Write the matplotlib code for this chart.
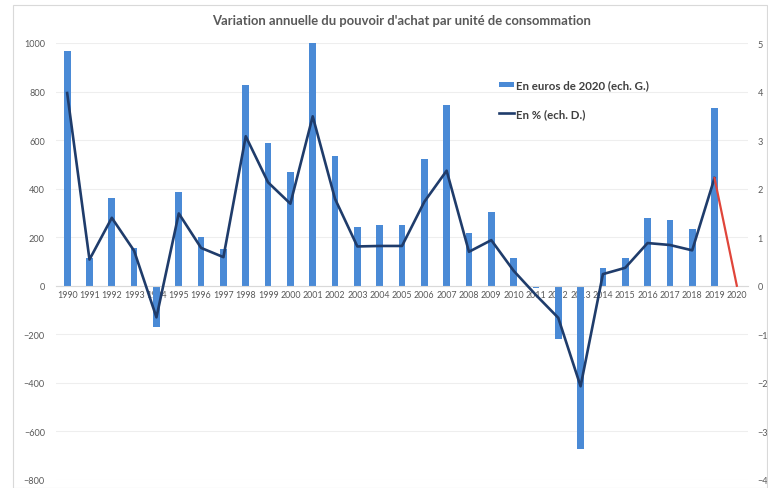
import numpy as np
import matplotlib
matplotlib.use("Agg")
import matplotlib.pyplot as plt
from matplotlib.patches import Patch, Rectangle
from matplotlib.lines import Line2D

years = [str(y) for y in range(1990, 2021)]
euros = [965, 113, 362, 157, -170, 386, 200, 152, 826, 587, 469,
         1000, 536, 241, 251, 251, 524, 743, 219, 303, 116,
         -10, -218, -673, 73, 114, 280, 269, 234, 732, np.nan]
pct = [3.97, 0.54, 1.40, 0.72, -0.65, 1.49, 0.78, 0.59, 3.08, 2.13, 1.69,
       3.49, 1.79, 0.81, 0.82, 0.82, 1.73, 2.37, 0.70, 0.94, 0.31,
       -0.19, -0.66, -2.07, 0.24, 0.37, 0.88, 0.84, 0.73, 2.22]
pct_2020 = 0.0

title = "Variation annuelle du pouvoir d'achat par unité de consommation"
lab_bar = "En euros de 2020 (ech. G.)"
lab_line = "En % (ech. D.)"

plt.rcParams['font.family'] = ['Lato', 'DejaVu Sans']

fig = plt.figure(figsize=(7.68, 4.89), dpi=100)
fig.patches.append(Rectangle((13/768, 0), 1 - 14/768, 1 - 6/489, transform=fig.transFigure,
                             fill=False, edgecolor='#d9d9d9', linewidth=0.8))
ax = fig.add_axes([56/768, 8/489, 692/768, 437/489])
ax.spines['bottom'].set_position(('data', 0))
ax2 = ax.twinx()

x = np.arange(len(years))
bar_color = '#4a8ad6'
line_color = '#1f3c6b'
txt = '#595959'

ax.bar(x, euros, width=0.3, color=bar_color, zorder=2)
ax.set_ylim(-800, 1000)
ax.set_yticks(range(-800, 1001, 200))
ax.set_xlim(-0.5, len(years) - 0.5)
ax.set_xticks(x)
ax.set_xticklabels(years)
ax.tick_params(axis='x', length=0, pad=3, labelsize=6.4, labelcolor=txt)
ax.tick_params(axis='y', length=0, labelsize=6.6, labelcolor=txt, pad=8)
ax.grid(axis='y', color='#eeeeee', linewidth=0.8, zorder=0)
ax.set_axisbelow(True)
for s in ['top', 'right', 'left']:
    ax.spines[s].set_visible(False)
ax.spines['bottom'].set_color('#d9d9d9')

ax2.plot(x[:len(pct)], pct, color=line_color, linewidth=1.9, zorder=3)
ax2.plot([x[len(pct) - 1], x[len(pct)]], [pct[-1], pct_2020], color='#e0453a', linewidth=1.6, zorder=3)
ax2.set_ylim(-4, 5)
ax2.set_yticks(range(-4, 6))
ax2.tick_params(axis='y', length=0, labelsize=6.6, labelcolor=txt, pad=7)
for s in ['top', 'right', 'left', 'bottom']:
    ax2.spines[s].set_visible(False)

ax.set_title(title, fontsize=9.4, fontweight='bold', color=txt, pad=14)

handles = [Patch(facecolor=bar_color, edgecolor='none'),
           Line2D([0], [0], color=line_color, linewidth=1.9)]
leg = ax2.legend(handles, [lab_bar, lab_line], loc='upper left', bbox_to_anchor=(0.625, 0.94),
                 frameon=False, fontsize=8.3, handlelength=1.3, handleheight=0.4,
                 handletextpad=0.15, labelspacing=1.5)
for t in leg.get_texts():
    t.set_color('#404040')
    t.set_fontweight('bold')

fig.savefig('out.png', dpi=100)
